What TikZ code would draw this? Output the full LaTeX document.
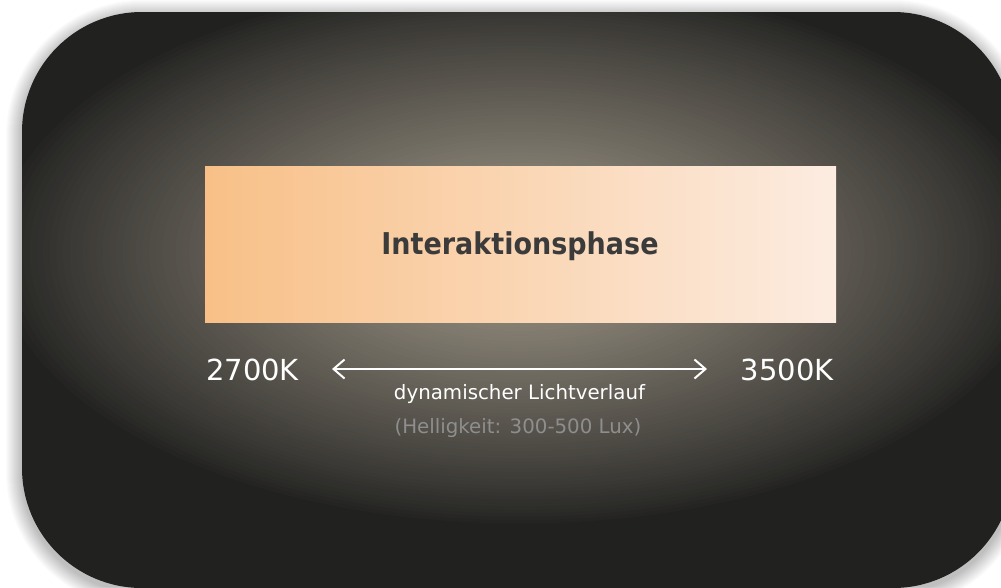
\documentclass[tikz,border=0pt]{standalone}
\usepackage{fontspec}
\setmainfont{DejaVu Sans}
\newfontfamily\titlefont{DejaVu Sans}[FakeStretch=0.9]
\usetikzlibrary{arrows.meta}
\definecolor{bgc}{HTML}{212120}
\definecolor{glowA}{HTML}{A39B8B}
\definecolor{boxL}{HTML}{F8C087}
\definecolor{boxR}{HTML}{FCECE1}
\definecolor{titlec}{HTML}{3B3B3B}
\definecolor{subgray}{HTML}{8E8E8E}
\tikzset{
  kelvin/.style={text=white, font=\fontsize{29}{34}\selectfont, inner sep=0pt},
  caption/.style={text=white, font=\fontsize{19.8}{23}\selectfont, inner sep=0pt},
  subcap/.style={text=subgray, font=\fontsize{19.8}{23}\selectfont, inner sep=0pt},
  rangearrow/.style={draw=white, line width=2pt, {Straight Barb[length=11pt,width=19pt,line width=2pt]}-{Straight Barb[length=11pt,width=19pt,line width=2pt]}}
}
\begin{document}
\begin{tikzpicture}[x=1pt,y=-1pt]
\useasboundingbox[fill=white] (0,0) rectangle (1001,587);
% soft shadow
\foreach \i in {1,...,16}{
  \fill[black, opacity=0.014, rounded corners=120pt+\i pt] (22-\i,12-\i+4) rectangle (1013+\i,588+\i+4);
}
% card
\fill[bgc, rounded corners=120pt] (22,12) rectangle (1013,588);
\begin{scope}
  \clip[rounded corners=120pt] (22,12) rectangle (1013,588);
  \foreach \k in {1,...,79}{
    \pgfmathsetmacro\rr{1-\k/80}
    \pgfmathsetmacro\pp{100*(\k/80)^0.85}
    \fill[glowA!\pp!bgc] (520,252) ellipse [x radius=530*\rr, y radius=275*\rr];
  }
\end{scope}
% phase box
\shade[left color=boxL, right color=boxR] (205,166) rectangle (836,322);
\node[anchor=base, text=titlec, font=\titlefont\bfseries\fontsize{30}{34}\selectfont, inner sep=0pt] (title) at (520,254) {Interaktionsphase};
% kelvin labels
\node[kelvin, anchor=base west] (k2700) at (206,380) {2700K};
\node[kelvin, anchor=base east] (k3500) at (834,380) {3500K};
\coordinate (al) at (332,369);
\coordinate (ar) at (707,369);
\draw[rangearrow] (al) -- (ar);
\node[caption, anchor=base] (dyn) at (519.5,399) {dynamischer Lichtverlauf};
\node[subcap, anchor=base] (lux) at (518,433) {(Helligkeit: 300-500 Lux)};
\end{tikzpicture}
\end{document}
